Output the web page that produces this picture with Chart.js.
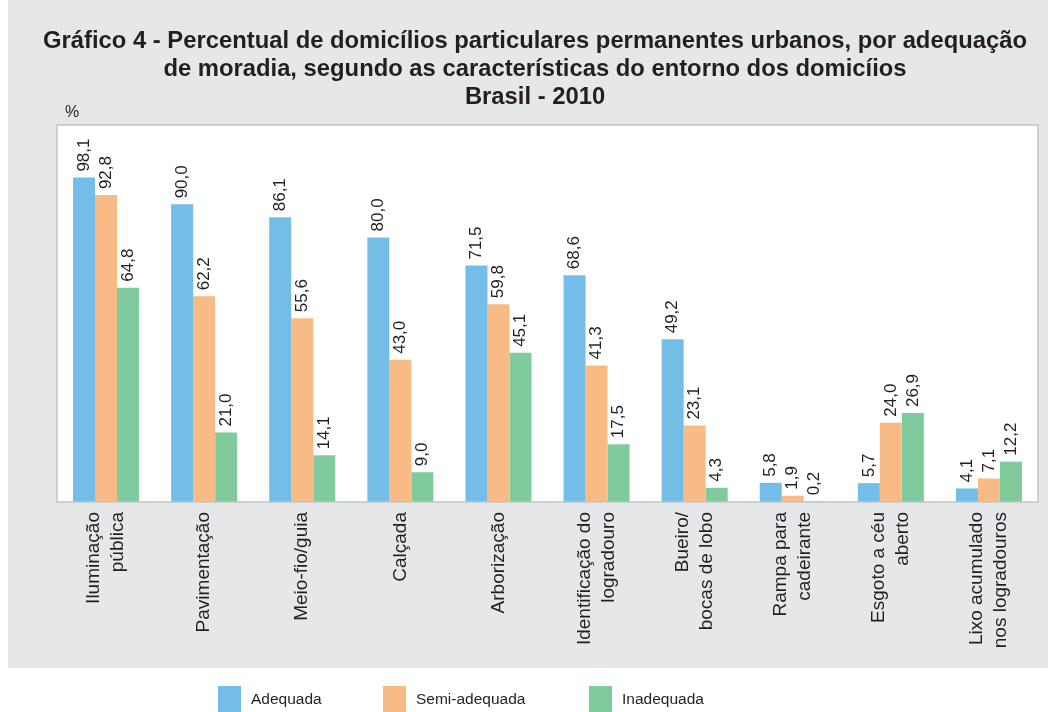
<!DOCTYPE html>
<html>
<head>
<meta charset="utf-8">
<script src="https://cdn.jsdelivr.net/npm/chart.js"></script>
<style>
  html, body { margin: 0; padding: 0; background: #ffffff; }
  #wrap { width: 1052px; height: 712px; }
</style>
</head>
<body>
<div id="wrap"><canvas id="grafico"></canvas></div>
<script>
// Dados
const categorias = [
  ['Iluminação', 'pública'],
  ['Pavimentação'],
  ['Meio-fio/guia'],
  ['Calçada'],
  ['Arborização'],
  ['Identificação do', 'logradouro'],
  ['Bueiro/', 'bocas de lobo'],
  ['Rampa para', 'cadeirante'],
  ['Esgoto a céu', 'aberto'],
  ['Lixo acumulado', 'nos logradouros']
];
const adequada     = [98.1, 90.0, 86.1, 80.0, 71.5, 68.6, 49.2, 5.8, 5.7, 4.1];
const semiAdequada = [92.8, 62.2, 55.6, 43.0, 59.8, 41.3, 23.1, 1.9, 24.0, 7.1];
const inadequada   = [64.8, 21.0, 14.1, 9.0, 45.1, 17.5, 4.3, 0.2, 26.9, 12.2];
const titulo = [
  'Gráfico 4 - Percentual de domicílios particulares permanentes urbanos, por adequação',
  'de moradia, segundo as características do entorno dos domicíios',
  'Brasil - 2010'
];

const corTexto = '#231f20';
const fonte = '"Liberation Sans", Arial, sans-serif';
const fmt = v => v.toFixed(1).replace('.', ',');

// Fundo cinza, área branca e moldura
const fundoPlugin = {
  id: 'fundo',
  beforeDraw(chart) {
    const ctx = chart.ctx;
    const a = chart.chartArea;
    const x = chart.scales.x;
    ctx.save();
    ctx.fillStyle = '#e6e7e9';
    ctx.fillRect(8, 0, 1040, x.bottom);
    ctx.fillStyle = '#ffffff';
    ctx.fillRect(a.left, a.top, a.right - a.left, a.bottom - a.top);
    ctx.restore();
  },
  afterDatasetsDraw(chart) {
    const ctx = chart.ctx;
    const a = chart.chartArea;
    ctx.save();
    ctx.strokeStyle = '#c4c5c7';
    ctx.lineWidth = 1.5;
    ctx.strokeRect(a.left, a.top, a.right - a.left, a.bottom - a.top);
    ctx.restore();
  }
};

// Título, rótulos de valores, rótulos do eixo x, "%" e legenda
const textosPlugin = {
  id: 'textos',
  afterDraw(chart) {
    const ctx = chart.ctx;
    const a = chart.chartArea;
    const xs = chart.scales.x;
    ctx.save();
    ctx.fillStyle = corTexto;

    // título (centrado no painel cinza)
    ctx.font = 'bold 23.8px ' + fonte;
    ctx.textAlign = 'center';
    ctx.textBaseline = 'alphabetic';
    const baseTit = [48, 76, 103.5];
    titulo.forEach((t, k) => ctx.fillText(t, 535, baseTit[k]));

    // valores acima das barras
    ctx.font = '17px ' + fonte;
    ctx.textAlign = 'left';
    ctx.textBaseline = 'middle';
    chart.data.datasets.forEach((ds, di) => {
      chart.getDatasetMeta(di).data.forEach((bar, i) => {
        ctx.save();
        ctx.translate(bar.x, bar.y - 6);
        ctx.rotate(-Math.PI / 2);
        ctx.fillText(fmt(ds.data[i]), 0, 0);
        ctx.restore();
      });
    });

    // categorias
    ctx.font = '19px ' + fonte;
    ctx.textAlign = 'right';
    const lh = 24;
    categorias.forEach((linhas, i) => {
      const cx = xs.getPixelForValue(i);
      linhas.forEach((t, k) => {
        const off = (k - (linhas.length - 1) / 2) * lh;
        ctx.save();
        ctx.translate(cx + off, a.bottom + 10);
        ctx.rotate(-Math.PI / 2);
        ctx.fillText(t, 0, 0);
        ctx.restore();
      });
    });

    // unidade
    ctx.font = '16px ' + fonte;
    ctx.textAlign = 'left';
    ctx.fillText('%', a.left + 8, a.top - 12);

    // legenda
    const posLeg = [218, 383, 589];
    ctx.font = '15.5px ' + fonte;
    chart.data.datasets.forEach((ds, di) => {
      const lx = posLeg[di];
      ctx.fillStyle = ds.backgroundColor;
      ctx.fillRect(lx, 686, 23, 26);
      ctx.fillStyle = corTexto;
      ctx.fillText(ds.label, lx + 33, 700);
    });
    ctx.restore();
  }
};

const ctx = document.getElementById('grafico').getContext('2d');
const grafico = new Chart(ctx, {
  type: 'bar',
  data: {
    labels: categorias,
    datasets: [
      { label: 'Adequada', data: adequada, backgroundColor: '#74bde7' },
      { label: 'Semi-adequada', data: semiAdequada, backgroundColor: '#f8bb86' },
      { label: 'Inadequada', data: inadequada, backgroundColor: '#80cb9b' }
    ]
  },
  options: {
    responsive: true,
    maintainAspectRatio: false,
    animation: false,
    layout: { padding: { left: 57, right: 14, top: 125, bottom: 44 } },
    datasets: {
      bar: { categoryPercentage: 0.673, barPercentage: 1.0 }
    },
    plugins: {
      legend: { display: false },
      tooltip: { enabled: false },
      title: { display: false }
    },
    scales: {
      x: {
        grid: { display: false, drawTicks: false },
        border: { display: false },
        ticks: { display: false },
        afterFit(scale) { scale.height = 166; }
      },
      y: {
        display: false,
        min: 0,
        max: 114
      }
    }
  },
  plugins: [fundoPlugin, textosPlugin]
});
</script>
</body>
</html>
